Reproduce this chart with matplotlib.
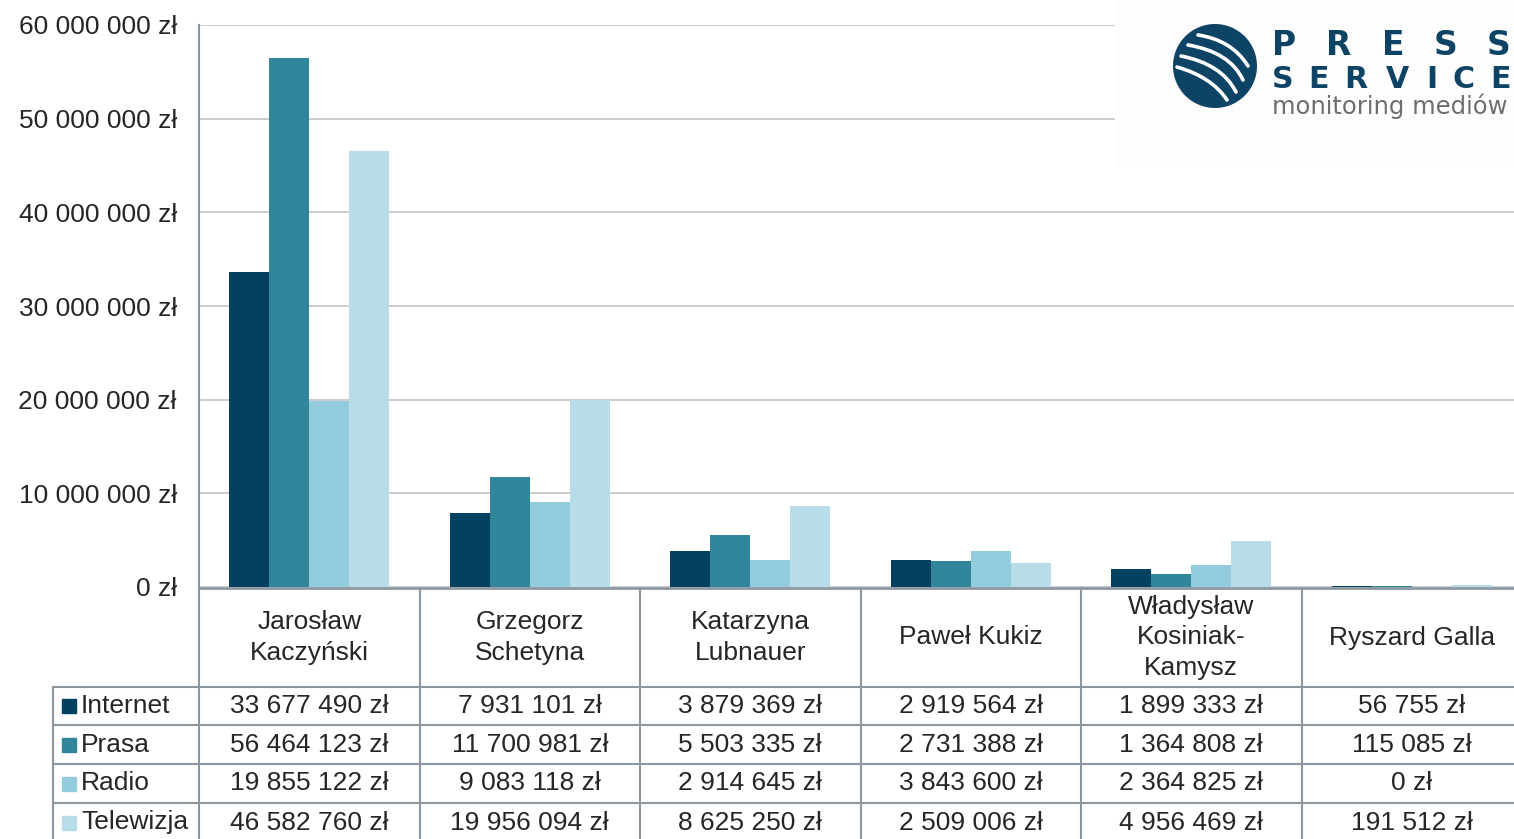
import numpy as np
import matplotlib
matplotlib.use("Agg")
import matplotlib.pyplot as plt
from matplotlib.patches import Rectangle, Circle, PathPatch
from matplotlib.path import Path
from matplotlib.textpath import TextPath
from matplotlib.font_manager import FontProperties

plt.rcParams['font.family'] = ['Liberation Sans', 'DejaVu Sans']

# ======================
# DATA
# ======================
candidates = ["Jarosław\nKaczyński", "Grzegorz\nSchetyna", "Katarzyna\nLubnauer",
              "Paweł Kukiz", "Władysław\nKosiniak-\nKamysz", "Ryszard Galla"]
media = ["Internet", "Prasa", "Radio", "Telewizja"]
internet = [33677490, 7931101, 3879369, 2919564, 1899333, 56755]
prasa = [56464123, 11700981, 5503335, 2731388, 1364808, 115085]
radio = [19855122, 9083118, 2914645, 3843600, 2364825, 0]
telewizja = [46582760, 19956094, 8625250, 2509006, 4956469, 191512]
series = [internet, prasa, radio, telewizja]
colors = ["#02415f", "#31869b", "#93cddd", "#b7dee8"]
yticks = np.arange(0, 60000001, 10000000)

TXT = "#262626"
LINE = "#8d97a1"
FS = 19


def zl(v):
    return f"{int(v):,}".replace(",", " ") + " zł"


# ======================
# FIGURE
# ======================
W, H = 1514, 839
fig = plt.figure(figsize=(W / 100, H / 100), dpi=100)

n = len(candidates)
col_w = 220.5
left, top, zero = 199, 25, 587

ax = fig.add_axes([left / W, 1 - zero / H, n * col_w / W, (zero - top) / H])
x = np.arange(n) + 0.5
bw = 40 / col_w
for k, (vals, c) in enumerate(zip(series, colors)):
    ax.bar(x + (k - 1.5) * bw, vals, width=bw, color=c, zorder=3)

ax.set_xlim(0, n)
ax.set_ylim(0, 60e6)
ax.set_yticks(yticks)
ax.set_yticklabels([zl(v) for v in yticks], fontsize=FS, color=TXT)
ax.tick_params(axis="y", length=0, pad=16)
ax.set_xticks([])
ax.yaxis.grid(True, color="#c4c4c4", lw=1.2, zorder=0)
ax.set_axisbelow(True)
for s in ["top", "right", "bottom"]:
    ax.spines[s].set_visible(False)
ax.spines["left"].set_color(LINE)
ax.spines["left"].set_linewidth(1.5)

# ======================
# TABLE + LOGO (pixel overlay)
# ======================
ov = fig.add_axes([0, 0, 1, 1])
ov.set_xlim(0, W)
ov.set_ylim(H, 0)
ov.axis("off")
ov.patch.set_visible(False)

edges = [left + i * col_w for i in range(n + 1)]
head_top, head_bot = 588, 687
row_lines = [687, 725, 764, 803, 842]

ov.plot([left, W], [head_top, head_top], color=LINE, lw=2)
for yl in row_lines[:-1]:
    ov.plot([53, W], [yl, yl], color=LINE, lw=1.5)
for xe in edges:
    ov.plot([xe, xe], [head_top, H], color=LINE, lw=1.5)
ov.plot([53, 53], [head_bot, H], color=LINE, lw=1.5)

for i, name in enumerate(candidates):
    cx = (edges[i] + edges[i + 1]) / 2
    ov.text(cx, (head_top + head_bot) / 2, name, ha="center", va="center",
            fontsize=FS, color=TXT, linespacing=1.32)

for r, (m, vals, c) in enumerate(zip(media, series, colors)):
    rc = (row_lines[r] + row_lines[r + 1]) / 2
    ov.add_patch(Rectangle((62, rc - 7), 14, 14, color=c))
    ov.text(81, rc, m, ha="left", va="center", fontsize=FS, color=TXT)
    for i, v in enumerate(vals):
        cx = (edges[i] + edges[i + 1]) / 2
        ov.text(cx, rc, zl(v), ha="center", va="center", fontsize=FS, color=TXT)

# logo
ov.add_patch(Rectangle((1115, 0), W - 1115, 168, fc="#fdfdfd", ec="none", zorder=5))
logo_blue = "#0d4466"
circ = Circle((1215, 66), 42, fc=logo_blue, ec="none", zorder=6)
ov.add_patch(circ)
stripes = [((1198, 35), (1232, 40), (1248, 66)),
           ((1188, 45), (1230, 52), (1243, 80)),
           ((1181, 56), (1222, 64), (1236, 92)),
           ((1177, 67), (1212, 77), (1227, 100))]
for p0, p1, p2 in stripes:
    pp = PathPatch(Path([p0, p1, p2], [Path.MOVETO, Path.CURVE3, Path.CURVE3]),
                   fc="none", ec="white", lw=2.6, capstyle="round", zorder=7)
    ov.add_patch(pp)
    pp.set_clip_path(circ)


def spread(text, x0, x1, base, px, color):
    fp = FontProperties(family="DejaVu Sans", weight="bold")
    widths = [TextPath((0, 0), ch, size=px, prop=fp).get_extents().width for ch in text]
    gap = (x1 - x0 - sum(widths)) / (len(text) - 1)
    xx = x0
    for ch, w in zip(text, widths):
        ov.text(xx + w / 2, base, ch, ha="center", va="baseline", fontsize=px * 0.72,
                fontweight="bold", family="DejaVu Sans", color=color, zorder=8)
        xx += w + gap


spread("PRESS", 1274, 1508, 55, 33, logo_blue)
spread("SERVICE", 1274, 1508, 88, 30, logo_blue)

fp_m = FontProperties(family="DejaVu Sans")
wm = TextPath((0, 0), "monitoring mediów", size=1, prop=fp_m).get_extents().width
ov.text(1272, 114, "monitoring mediów", ha="left", va="baseline",
        fontsize=232 / wm * 0.72, family="DejaVu Sans", color="#6d6e71", zorder=8)

fig.savefig("out.png", dpi=100)
